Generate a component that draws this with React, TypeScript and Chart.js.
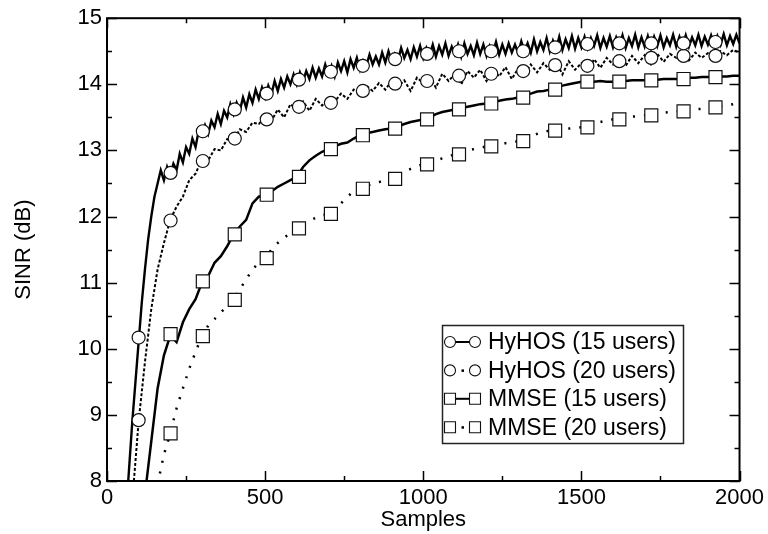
import React, { useEffect, useRef } from "react";
import { Chart, registerables } from "chart.js";

Chart.register(...registerables);

const FONT = "'Liberation Sans', Arial, Helvetica, sans-serif";

// Axes
const X_MIN = 0;
const X_MAX = 2000;
const Y_MIN = 8;
const Y_MAX = 15;
const X_TICKS = [0, 500, 1000, 1500, 2000];
const X_MINOR = [250, 750, 1250, 1750];
const Y_TICKS = [8, 9, 10, 11, 12, 13, 14, 15];
const Y_MINOR = [8.5, 9.5, 10.5, 11.5, 12.5, 13.5, 14.5];
const X_TITLE = "Samples";
const Y_TITLE = "SINR (dB)";

const LEGEND_LABELS = ["HyHOS (15 users)", "HyHOS (20 users)", "MMSE (15 users)", "MMSE (20 users)"];

// Curves: sample grid = start + i * step
const HY15_START = 60;
const HY15_STEP = 10;
const HY15 = [
  7.5, 8.2, 8.9, 9.5, 10.1, 10.7, 11.2, 11.65, 12.0, 12.3,
  12.5, 12.7, 12.55, 12.75, 12.62, 12.8, 12.7, 12.95, 12.82, 13.05,
  12.95, 13.18, 13.05, 13.3, 13.22, 13.38, 13.25, 13.45, 13.35, 13.55,
  13.4, 13.6, 13.5, 13.7, 13.55, 13.72, 13.6, 13.8, 13.65, 13.85,
  13.72, 13.92, 13.78, 13.95, 13.8, 13.98, 13.85, 14.05, 13.9, 14.08,
  13.95, 14.12, 14.0, 14.15, 14.0, 14.18, 14.05, 14.2, 14.08, 14.25,
  14.1, 14.24, 14.12, 14.3, 14.15, 14.28, 14.12, 14.33, 14.2, 14.35,
  14.18, 14.38, 14.25, 14.4, 14.22, 14.36, 14.28, 14.45, 14.3, 14.42,
  14.3, 14.48, 14.33, 14.5, 14.35, 14.46, 14.36, 14.55, 14.4, 14.52,
  14.38, 14.56, 14.42, 14.58, 14.4, 14.55, 14.44, 14.6, 14.42, 14.58,
  14.45, 14.62, 14.43, 14.57, 14.45, 14.6, 14.42, 14.62, 14.46, 14.58,
  14.44, 14.63, 14.46, 14.6, 14.43, 14.58, 14.47, 14.64, 14.45, 14.6,
  14.46, 14.62, 14.48, 14.6, 14.47, 14.65, 14.5, 14.62, 14.48, 14.68,
  14.5, 14.64, 14.52, 14.7, 14.5, 14.66, 14.53, 14.72, 14.52, 14.68,
  14.55, 14.73, 14.54, 14.7, 14.56, 14.72, 14.55, 14.7, 14.58, 14.74,
  14.55, 14.7, 14.57, 14.73, 14.56, 14.71, 14.58, 14.74, 14.55, 14.7,
  14.58, 14.75, 14.56, 14.71, 14.57, 14.73, 14.55, 14.72, 14.58, 14.74,
  14.56, 14.7, 14.59, 14.75, 14.57, 14.72, 14.58, 14.74, 14.57, 14.71,
  14.59, 14.75, 14.58, 14.72, 14.6, 14.74, 14.58, 14.73, 14.6, 14.76,
  14.59, 14.73, 14.61, 14.75, 14.62,
];

const HY20_START = 80;
const HY20_STEP = 20;
const HY20 = [
  7.7, 8.9, 9.8, 10.6, 11.2, 11.6, 11.95, 12.15, 12.3, 12.55,
  12.65, 12.86, 12.85, 13.02, 13.0, 13.17, 13.15, 13.32, 13.28, 13.42,
  13.4, 13.5, 13.45, 13.62, 13.5, 13.7, 13.62, 13.74, 13.6, 13.78,
  13.68, 13.78, 13.74, 13.86, 13.78, 13.92, 13.86, 13.98, 13.9, 14.02,
  13.92, 14.05, 13.96, 14.06, 13.9, 14.1, 14.02, 14.12, 13.95, 14.16,
  14.05, 14.16, 14.0, 14.2, 14.1, 14.22, 14.05, 14.22, 14.12, 14.26,
  14.08, 14.24, 14.15, 14.3, 14.18, 14.32, 14.22, 14.34, 14.15, 14.35,
  14.22, 14.32, 14.2, 14.38, 14.25, 14.4, 14.3, 14.4, 14.28, 14.43,
  14.32, 14.44, 14.3, 14.46, 14.34, 14.46, 14.4, 14.48, 14.36, 14.48,
  14.4, 14.47, 14.42, 14.5, 14.44, 14.52, 14.48,
];

const MM15_START = 120;
const MM15_STEP = 20;
const MM15 = [
  7.8, 8.6, 9.4, 9.9, 10.2, 10.1, 10.4, 10.6, 10.75, 11.0,
  11.1, 11.3, 11.4, 11.55, 11.73, 11.85, 11.95, 12.2, 12.3, 12.33,
  12.38, 12.45, 12.5, 12.55, 12.6, 12.75, 12.85, 12.92, 12.98, 13.02,
  13.06, 13.1, 13.12, 13.18, 13.23, 13.26, 13.28, 13.3, 13.32, 13.33,
  13.36, 13.4, 13.43, 13.45, 13.47, 13.5, 13.55, 13.58, 13.6, 13.62,
  13.64, 13.66, 13.68, 13.7, 13.71, 13.73, 13.75, 13.77, 13.78, 13.8,
  13.83, 13.86, 13.89, 13.9, 13.92, 13.95, 13.98, 14.0, 14.02, 14.04,
  14.04, 14.04, 14.05, 14.04, 14.04, 14.05, 14.05, 14.06, 14.06, 14.06,
  14.07, 14.07, 14.08, 14.08, 14.08, 14.09, 14.1, 14.1, 14.11, 14.11,
  14.12, 14.12, 14.12, 14.13, 14.13,
];

const MM20_START = 160;
const MM20_STEP = 20;
const MM20 = [
  7.95, 8.4, 8.72, 9.1, 9.4, 9.7, 9.95, 10.19, 10.35, 10.45,
  10.55, 10.65, 10.74, 10.9, 11.05, 11.2, 11.3, 11.37, 11.5, 11.6,
  11.68, 11.75, 11.82, 11.88, 11.94, 11.98, 12.02, 12.04, 12.1, 12.2,
  12.3, 12.38, 12.42, 12.46, 12.5, 12.52, 12.55, 12.57, 12.62, 12.68,
  12.72, 12.76, 12.79, 12.82, 12.85, 12.88, 12.91, 12.94, 12.97, 13.0,
  13.02, 13.04, 13.06, 13.08, 13.1, 13.11, 13.12, 13.14, 13.18, 13.22,
  13.25, 13.28, 13.3, 13.31, 13.32, 13.33, 13.34, 13.35, 13.38, 13.41,
  13.43, 13.45, 13.47, 13.48, 13.5, 13.51, 13.52, 13.53, 13.54, 13.55,
  13.57, 13.58, 13.59, 13.6, 13.61, 13.62, 13.63, 13.65, 13.66, 13.67,
  13.68, 13.7, 13.71,
];

// Markers
const CIRCLE_X = [100, 201, 303, 404, 505, 607, 708, 809, 911, 1012, 1113, 1215, 1316, 1417, 1519, 1620, 1721, 1823, 1924];
const HY15_MARK = [10.17, 12.66, 13.29, 13.62, 13.86, 14.07, 14.19, 14.28, 14.38, 14.46, 14.5, 14.5, 14.5, 14.56, 14.61, 14.62, 14.62, 14.62, 14.64];
const HY20_MARK = [8.92, 11.94, 12.84, 13.18, 13.47, 13.66, 13.72, 13.9, 14.01, 14.05, 14.13, 14.16, 14.2, 14.29, 14.28, 14.35, 14.4, 14.43, 14.43];
const SQUARE_X = [201, 303, 404, 505, 607, 708, 809, 911, 1012, 1113, 1215, 1316, 1417, 1519, 1620, 1721, 1823, 1924];
const MM15_MARK = [10.22, 11.02, 11.73, 12.33, 12.6, 13.02, 13.23, 13.33, 13.47, 13.62, 13.71, 13.8, 13.92, 14.04, 14.04, 14.06, 14.08, 14.11];
const MM20_MARK = [8.72, 10.19, 10.74, 11.37, 11.82, 12.04, 12.42, 12.57, 12.79, 12.94, 13.06, 13.14, 13.3, 13.35, 13.47, 13.53, 13.59, 13.65];

const grid = (start: number, step: number, vals: number[]) => vals.map((y, i) => ({ x: start + i * step, y }));
const pairs = (xs: number[], ys: number[]) => ys.map((y, i) => ({ x: xs[i], y }));

export default function App() {
  const ref = useRef<HTMLCanvasElement>(null);

  useEffect(() => {
    const canvas = ref.current;
    if (!canvas) return;

    const lineBase = {
      pointRadius: 0,
      fill: false,
      tension: 0,
      borderColor: "#000",
      clip: 0,
      order: 2,
    };
    const markBase = {
      showLine: false,
      backgroundColor: "#fff",
      borderColor: "#111",
      borderWidth: 1.2,
      order: 0,
    };

    const framePlugin = {
      id: "frameAndLegend",
      afterDraw(chart: any) {
        const { ctx, chartArea: a, scales } = chart;
        const xs = scales.x;
        const ys = scales.y;
        ctx.save();
        ctx.strokeStyle = "#000";
        ctx.lineWidth = 2;
        ctx.strokeRect(a.left, a.top, a.right - a.left, a.bottom - a.top);
        ctx.lineWidth = 1.5;
        ctx.beginPath();
        const xt = (v: number, len: number) => {
          const px = Math.round(xs.getPixelForValue(v)) + 0.5;
          ctx.moveTo(px, a.bottom);
          ctx.lineTo(px, a.bottom - len);
          ctx.moveTo(px, a.top);
          ctx.lineTo(px, a.top + len);
        };
        const yt = (v: number, len: number) => {
          const py = Math.round(ys.getPixelForValue(v)) + 0.5;
          ctx.moveTo(a.left, py);
          ctx.lineTo(a.left + len, py);
          ctx.moveTo(a.right, py);
          ctx.lineTo(a.right - len, py);
        };
        X_TICKS.forEach((v) => xt(v, 10));
        X_MINOR.forEach((v) => xt(v, 5));
        Y_TICKS.forEach((v) => yt(v, 10));
        Y_MINOR.forEach((v) => yt(v, 5));
        ctx.stroke();

        // Legend
        const bx = 442, by = 325, bw = 241, bh = 118;
        ctx.fillStyle = "#fff";
        ctx.fillRect(bx, by, bw, bh);
        ctx.lineWidth = 1.5;
        ctx.strokeStyle = "#222";
        ctx.strokeRect(bx + 0.5, by + 0.5, bw, bh);
        ctx.font = `23px ${FONT}`;
        ctx.textBaseline = "middle";
        ctx.textAlign = "left";
        LEGEND_LABELS.forEach((label, i) => {
          const cy = 342 + i * 28.4;
          const x1 = 450, x2 = 475;
          const solid = i % 2 === 0;
          const circle = i < 2;
          ctx.strokeStyle = "#000";
          ctx.fillStyle = "#000";
          if (solid) {
            ctx.lineWidth = 2;
            ctx.beginPath();
            ctx.moveTo(x1, cy);
            ctx.lineTo(x2, cy);
            ctx.stroke();
          } else {
            ctx.fillRect((x1 + x2) / 2 - 1, cy - 1, 2.5, 2.5);
          }
          ctx.lineWidth = 1.1;
          ctx.strokeStyle = "#111";
          for (const mx of [x1, x2]) {
            ctx.fillStyle = "#fff";
            ctx.beginPath();
            if (circle) {
              ctx.arc(mx, cy, 5.5, 0, Math.PI * 2);
            } else {
              ctx.rect(mx - 5.5, cy - 5.5, 11, 11);
            }
            ctx.fill();
            ctx.stroke();
          }
          ctx.fillStyle = "#000";
          ctx.fillText(label, 488, cy + 1);
        });
        ctx.restore();
      },
    };

    const chart = new Chart(canvas, {
      type: "line",
      data: {
        datasets: [
          { ...markBase, label: "m1", data: pairs(CIRCLE_X, HY15_MARK), pointStyle: "circle", pointRadius: 6.5 },
          { ...markBase, label: "m2", data: pairs(CIRCLE_X, HY20_MARK), pointStyle: "circle", pointRadius: 6.5 },
          { ...markBase, label: "m3", data: pairs(SQUARE_X, MM15_MARK), pointStyle: "rect", pointRadius: 9.2 },
          { ...markBase, label: "m4", data: pairs(SQUARE_X, MM20_MARK), pointStyle: "rect", pointRadius: 9.2 },
          { ...lineBase, label: LEGEND_LABELS[0], data: grid(HY15_START, HY15_STEP, HY15), borderWidth: 2.4 },
          { ...lineBase, label: LEGEND_LABELS[1], data: grid(HY20_START, HY20_STEP, HY20), borderWidth: 2, borderDash: [3, 2] },
          { ...lineBase, label: LEGEND_LABELS[2], data: grid(MM15_START, MM15_STEP, MM15), borderWidth: 2.5 },
          { ...lineBase, label: LEGEND_LABELS[3], data: grid(MM20_START, MM20_STEP, MM20), borderWidth: 2.5, borderDash: [2, 9] },
        ] as any,
      },
      options: {
        animation: false,
        responsive: true,
        maintainAspectRatio: false,
        layout: { padding: { top: 15, right: 27, left: 0, bottom: 0 } },
        plugins: { legend: { display: false }, tooltip: { enabled: false } },
        events: [],
        scales: {
          x: {
            type: "linear",
            min: X_MIN,
            max: X_MAX,
            afterBuildTicks: (s: any) => {
              s.ticks = X_TICKS.map((v) => ({ value: v }));
            },
            afterFit: (s: any) => {
              s.height = 53;
            },
            grid: { display: false, drawTicks: false },
            border: { display: false },
            ticks: {
              autoSkip: false,
              maxRotation: 0,
              padding: 4,
              color: "#000",
              font: { family: FONT, size: 22 },
              callback: (v: any) => String(v),
            },
            title: {
              display: true,
              text: X_TITLE,
              color: "#000",
              font: { family: FONT, size: 22 },
              padding: { top: 0, bottom: 1 },
            },
          },
          y: {
            type: "linear",
            min: Y_MIN,
            max: Y_MAX,
            afterBuildTicks: (s: any) => {
              s.ticks = Y_TICKS.map((v) => ({ value: v }));
            },
            afterFit: (s: any) => {
              s.width = 107;
            },
            grid: { display: false, drawTicks: false },
            border: { display: false },
            ticks: {
              autoSkip: false,
              padding: 5,
              color: "#000",
              font: { family: FONT, size: 22 },
              callback: (v: any) => String(v),
            },
            title: {
              display: true,
              text: Y_TITLE,
              color: "#000",
              font: { family: FONT, size: 22 },
              padding: { top: 11, bottom: 0 },
            },
          },
        },
      } as any,
      plugins: [framePlugin],
    });

    return () => chart.destroy();
  }, []);

  return (
    <div style={{ position: "absolute", left: 0, top: 0, width: 768, height: 534, background: "#fff" }}>
      <canvas ref={ref} />
    </div>
  );
}
